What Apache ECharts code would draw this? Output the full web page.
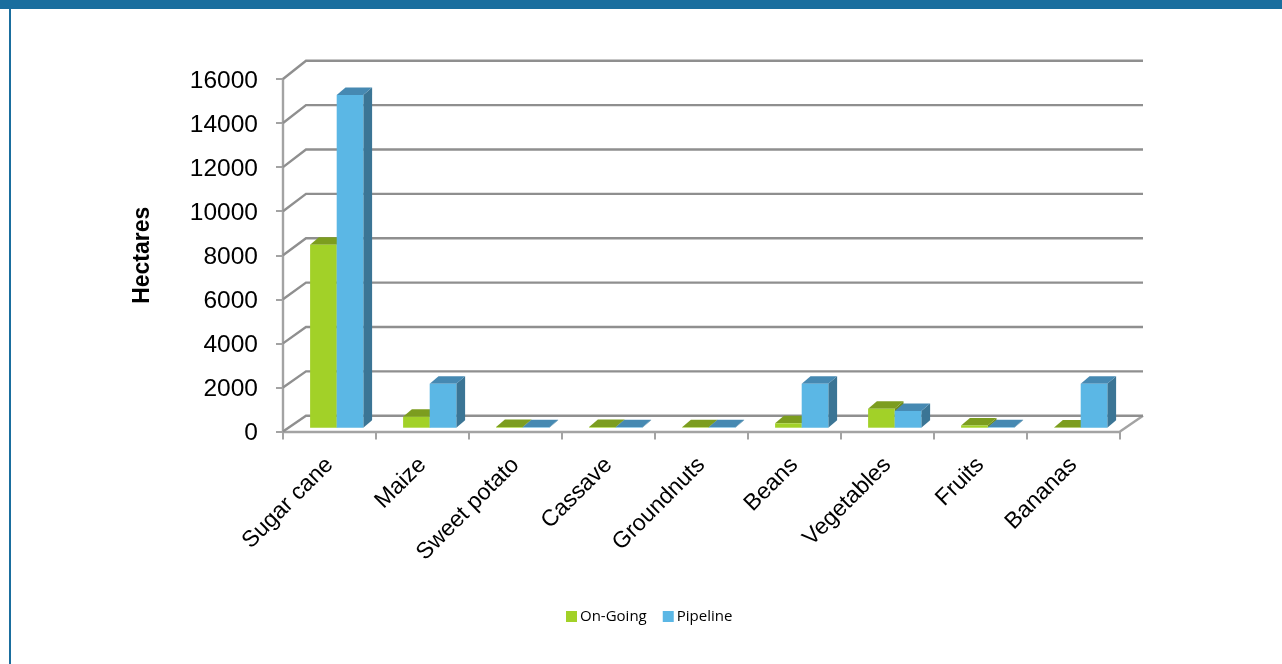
<!DOCTYPE html>
<html><head><meta charset="utf-8">
<style>html,body{margin:0;padding:0;background:#fff}#c{width:1282px;height:664px}</style>
<script src="https://cdn.jsdelivr.net/npm/echarts@6/dist/echarts.min.js"></script>
</head><body><div id="c"></div>
<script>
const categories = ['Sugar cane','Maize','Sweet potato','Cassave','Groundnuts','Beans','Vegetables','Fruits','Bananas'];
const onGoing = [8300,500,30,30,20,200,860,100,10];
const pipelineValues = [15100,2000,20,20,20,2000,760,20,2000];
const wallTicks = [0,2000,4000,6000,8000,10000,12000,14000,16000];

const FONT = '"Liberation Sans"';
const GRID_COLOR = '#8f8f8f';
const AXIS_COLOR = '#a3a3a3';
const BACK_DX = 23;
const BAR_W = 26.6, BAR_DX = 8.8, BAR_DY = 7.5, BAR_BASE_DX = 7.2, BAR_BASE_DY = 3.8;

function wallItem(params, api) {
  const cs = params.coordSys;
  const y = api.coord([0, api.value(0)])[1];
  const dy = 15.8 + 2.4 * api.value(0) / 16000;
  const x0 = cs.x, x1 = cs.x + cs.width;
  return {
    type: 'polyline', silent: true,
    shape: { points: [[x0, y], [x0 + BACK_DX, y - dy], [x1 + BACK_DX, y - dy]] },
    style: { stroke: GRID_COLOR, lineWidth: 2.4, fill: null }
  };
}
function barItem(side, front, top, dark) {
  return function (params, api) {
    const p = api.coord([api.value(0), api.value(1)]);
    const b = api.coord([api.value(0), 0]);
    const xL = p[0] + BAR_BASE_DX + (side === 0 ? -BAR_W : 0);
    const xR = xL + BAR_W;
    const yT = p[1] - BAR_BASE_DY, yB = b[1] - BAR_BASE_DY;
    const poly = (pts, fill) => ({ type: 'polygon', silent: true, shape: { points: pts }, style: { fill: fill, stroke: null } });
    return {
      type: 'group',
      children: [
        poly([[xR, yT], [xR + BAR_DX, yT - BAR_DY], [xR + BAR_DX, yB - BAR_DY], [xR, yB]], dark),
        poly([[xL, yT], [xL + BAR_DX, yT - BAR_DY], [xR + BAR_DX, yT - BAR_DY], [xR, yT]], top),
        poly([[xL, yT], [xR, yT], [xR, yB], [xL, yB]], front)
      ]
    };
  };
}
const pairs = arr => arr.map((v, i) => [i, v]);

const chart = echarts.init(document.getElementById('c'));
chart.setOption({
  animation: false,
  backgroundColor: '#fff',
  graphic: [
    { type: 'rect', z: 100, shape: { x: 0, y: 0, width: 1282, height: 9 }, style: { fill: '#1a6e9e' } },
    { type: 'rect', z: 100, shape: { x: 9, y: 0, width: 2, height: 664 }, style: { fill: '#1a6e9e' } },
    { type: 'polyline', z: 1, shape: { points: [[1120, 431.5], [1143, 415.7]] }, style: { stroke: AXIS_COLOR, lineWidth: 2.4, fill: null } }
  ],
  grid: { left: 283, top: 79, width: 837, height: 352.5 },
  legend: {
    data: ['On-Going', 'Pipeline'], left: 561, top: 604,
    itemWidth: 11, itemHeight: 11, itemGap: 16, icon: 'rect',
    textStyle: { fontFamily: '"Open Sans"', fontSize: 15, color: '#000', padding: [0, 0, 0, -2] }
  },
  xAxis: {
    type: 'category', data: categories,
    axisLine: { lineStyle: { color: AXIS_COLOR, width: 2.4 } },
    axisTick: { show: true, length: 8, lineStyle: { color: AXIS_COLOR, width: 2 } },
    axisLabel: { interval: 0, rotate: 45, margin: 30, fontFamily: FONT, fontSize: 23, color: '#000' }
  },
  yAxis: {
    type: 'value', min: 0, max: 16000, interval: 2000,
    name: 'Hectares', nameLocation: 'middle', nameGap: 129, nameRotate: 90,
    nameTextStyle: { fontFamily: FONT, fontSize: 23, fontWeight: 'bold', color: '#000' },
    axisLine: { show: true, lineStyle: { color: AXIS_COLOR, width: 2.4 } },
    axisTick: { show: true, length: 7, lineStyle: { color: AXIS_COLOR, width: 2 } },
    splitLine: { show: false },
    axisLabel: {
      margin: 25, color: '#000',
      formatter: v => '{n|' + v + '}',
      rich: { n: { fontFamily: FONT, fontSize: 24.5, color: '#000', padding: [4, 0, 0, 0] } }
    }
  },
  series: [
    { type: 'custom', name: 'walls', z: 1, data: wallTicks.map(v => [v]), renderItem: wallItem, encode: { y: 0 }, silent: true },
    { type: 'custom', name: 'On-Going', z: 3, itemStyle: { color: '#a2d128' }, data: pairs(onGoing), renderItem: barItem(0, '#a2d128', '#7c9d1f', '#6e8c1b'), encode: { x: 0, y: 1 } },
    { type: 'custom', name: 'Pipeline', z: 4, itemStyle: { color: '#5bb7e5' }, data: pairs(pipelineValues), renderItem: barItem(1, '#5bb7e5', '#4689b2', '#3b7595'), encode: { x: 0, y: 1 } }
  ]
});
</script></body></html>
